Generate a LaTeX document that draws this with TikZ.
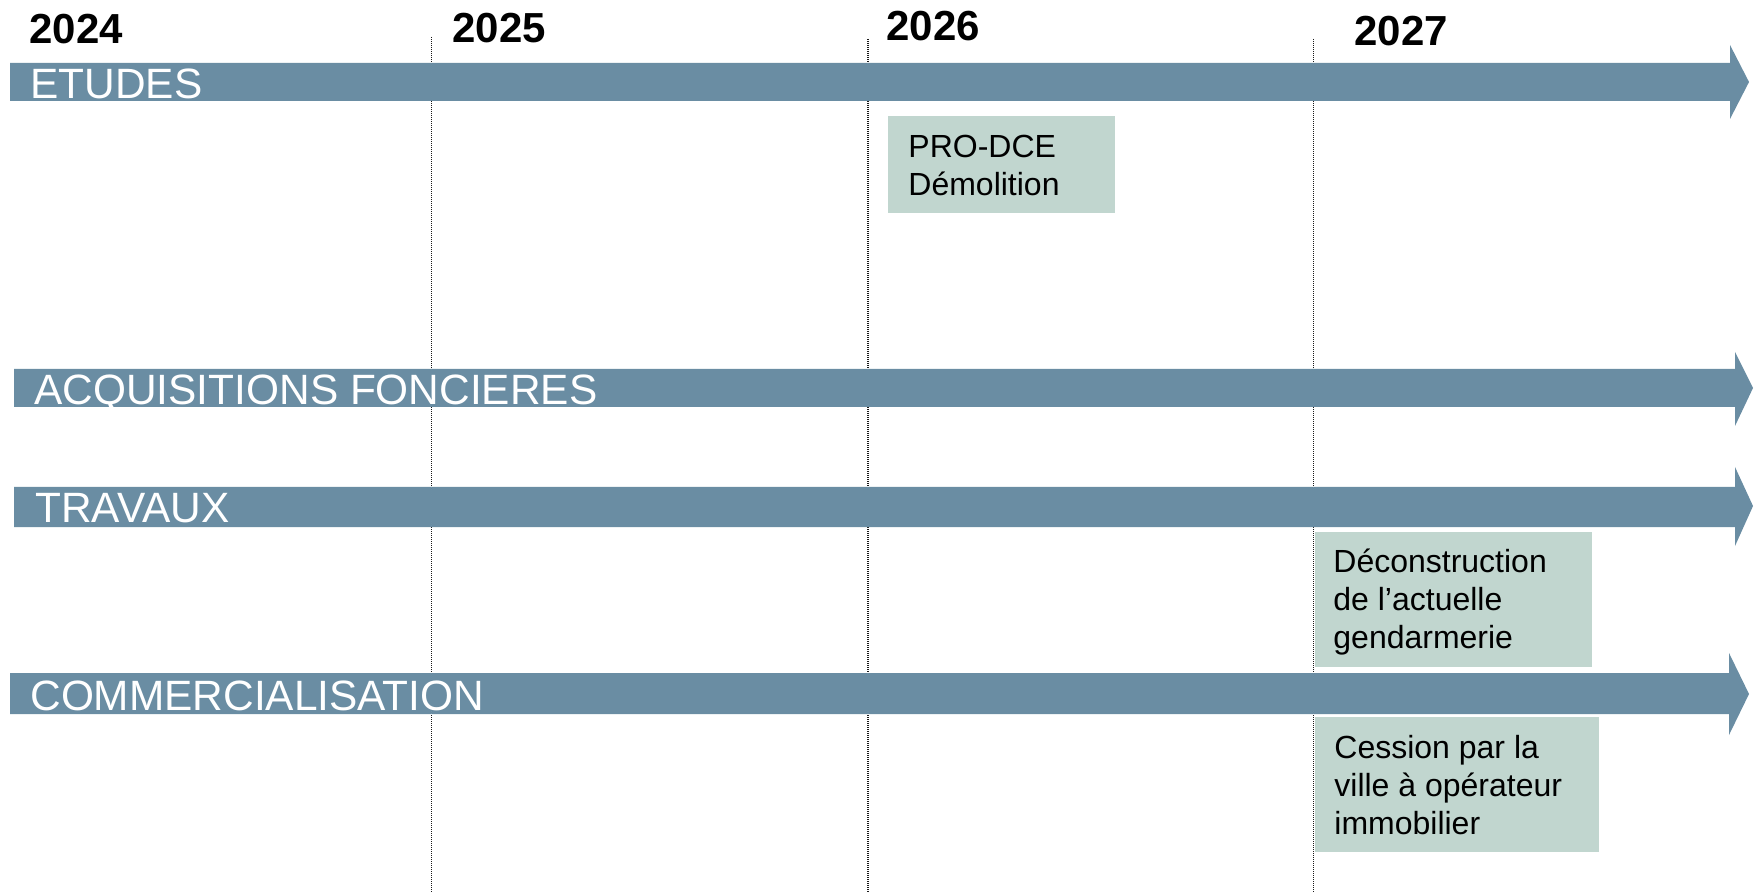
\documentclass[tikz,border=0pt]{standalone}
\usepackage{fontspec}
\setmainfont{Liberation Sans}
\definecolor{arrowblue}{RGB}{106,141,163}
\definecolor{boxgreen}{RGB}{193,214,207}
\begin{document}
\begin{tikzpicture}[x=0.5pt,y=-0.5pt,
  year/.style={font=\fontsize{21pt}{25pt}\selectfont\bfseries, inner sep=0, anchor=base west},
  band/.style={fill=arrowblue},
  bandlabel/.style={font=\fontsize{21.2pt}{25pt}\selectfont, text=white, inner sep=0, anchor=base west},
  yearline/.style={line width=0.6pt, black!90, dash pattern=on 0.5pt off 0.5pt},
  boxfill/.style={fill=boxgreen},
  boxtext/.style={font=\fontsize{16pt}{19pt}\selectfont, align=left, inner sep=0, anchor=north west}]
\useasboundingbox (0,0) rectangle (1760,892);

% year separators
\coordinate (l1t) at (431.5,37);  \coordinate (l1b) at (431.5,892);
\coordinate (l2t) at (868,39);    \coordinate (l2b) at (868,892);
\coordinate (l3t) at (1313.5,39); \coordinate (l3b) at (1313.5,892);
\draw[yearline] (l1t) -- (l1b);
\draw[yearline] (l2t) -- (l2b);
\draw[yearline] (l3t) -- (l3b);

% years
\node[year] (y2024) at (29,44) {2024};
\node[year] (y2025) at (452,43) {2025};
\node[year] (y2026) at (886,41) {2026};
\node[year] (y2027) at (1354,46) {2027};

% bands
\fill[band] (10,63) -- (1730,63) -- (1730,45) -- (1749,82) -- (1730,119) -- (1730,101) -- (10,101) -- cycle;
\fill[band] (14,369) -- (1735,369) -- (1735,352) -- (1753,388) -- (1735,426) -- (1735,407) -- (14,407) -- cycle;
\fill[band] (14,487) -- (1735,487) -- (1735,467) -- (1753,506) -- (1735,546) -- (1735,527) -- (14,527) -- cycle;
\fill[band] (10,673) -- (1729,673) -- (1729,653) -- (1749,694) -- (1729,735) -- (1729,714) -- (10,714) -- cycle;

\node[bandlabel] (etudes) at (30,99) {ETUDES};
\node[bandlabel] (acq) at (34,405) {ACQUISITIONS FONCIERES};
\node[bandlabel] (trav) at (35,523) {TRAVAUX};
\node[bandlabel] (comm) at (30,710) {COMMERCIALISATION};

% boxes
\fill[boxfill] (888,116) rectangle (1115,213);
\node[boxtext] (prodce) at (908,135) {PRO-DCE\\Démolition};

\fill[boxfill] (1315,532) rectangle (1592,667);
\node[boxtext] (decons) at (1333,549) {Déconstruction\\de l’actuelle\\gendarmerie};

\fill[boxfill] (1315,717) rectangle (1599,852);
\node[boxtext] (cession) at (1334,735) {Cession par la\\ville à opérateur\\immobilier};
\end{tikzpicture}
\end{document}
